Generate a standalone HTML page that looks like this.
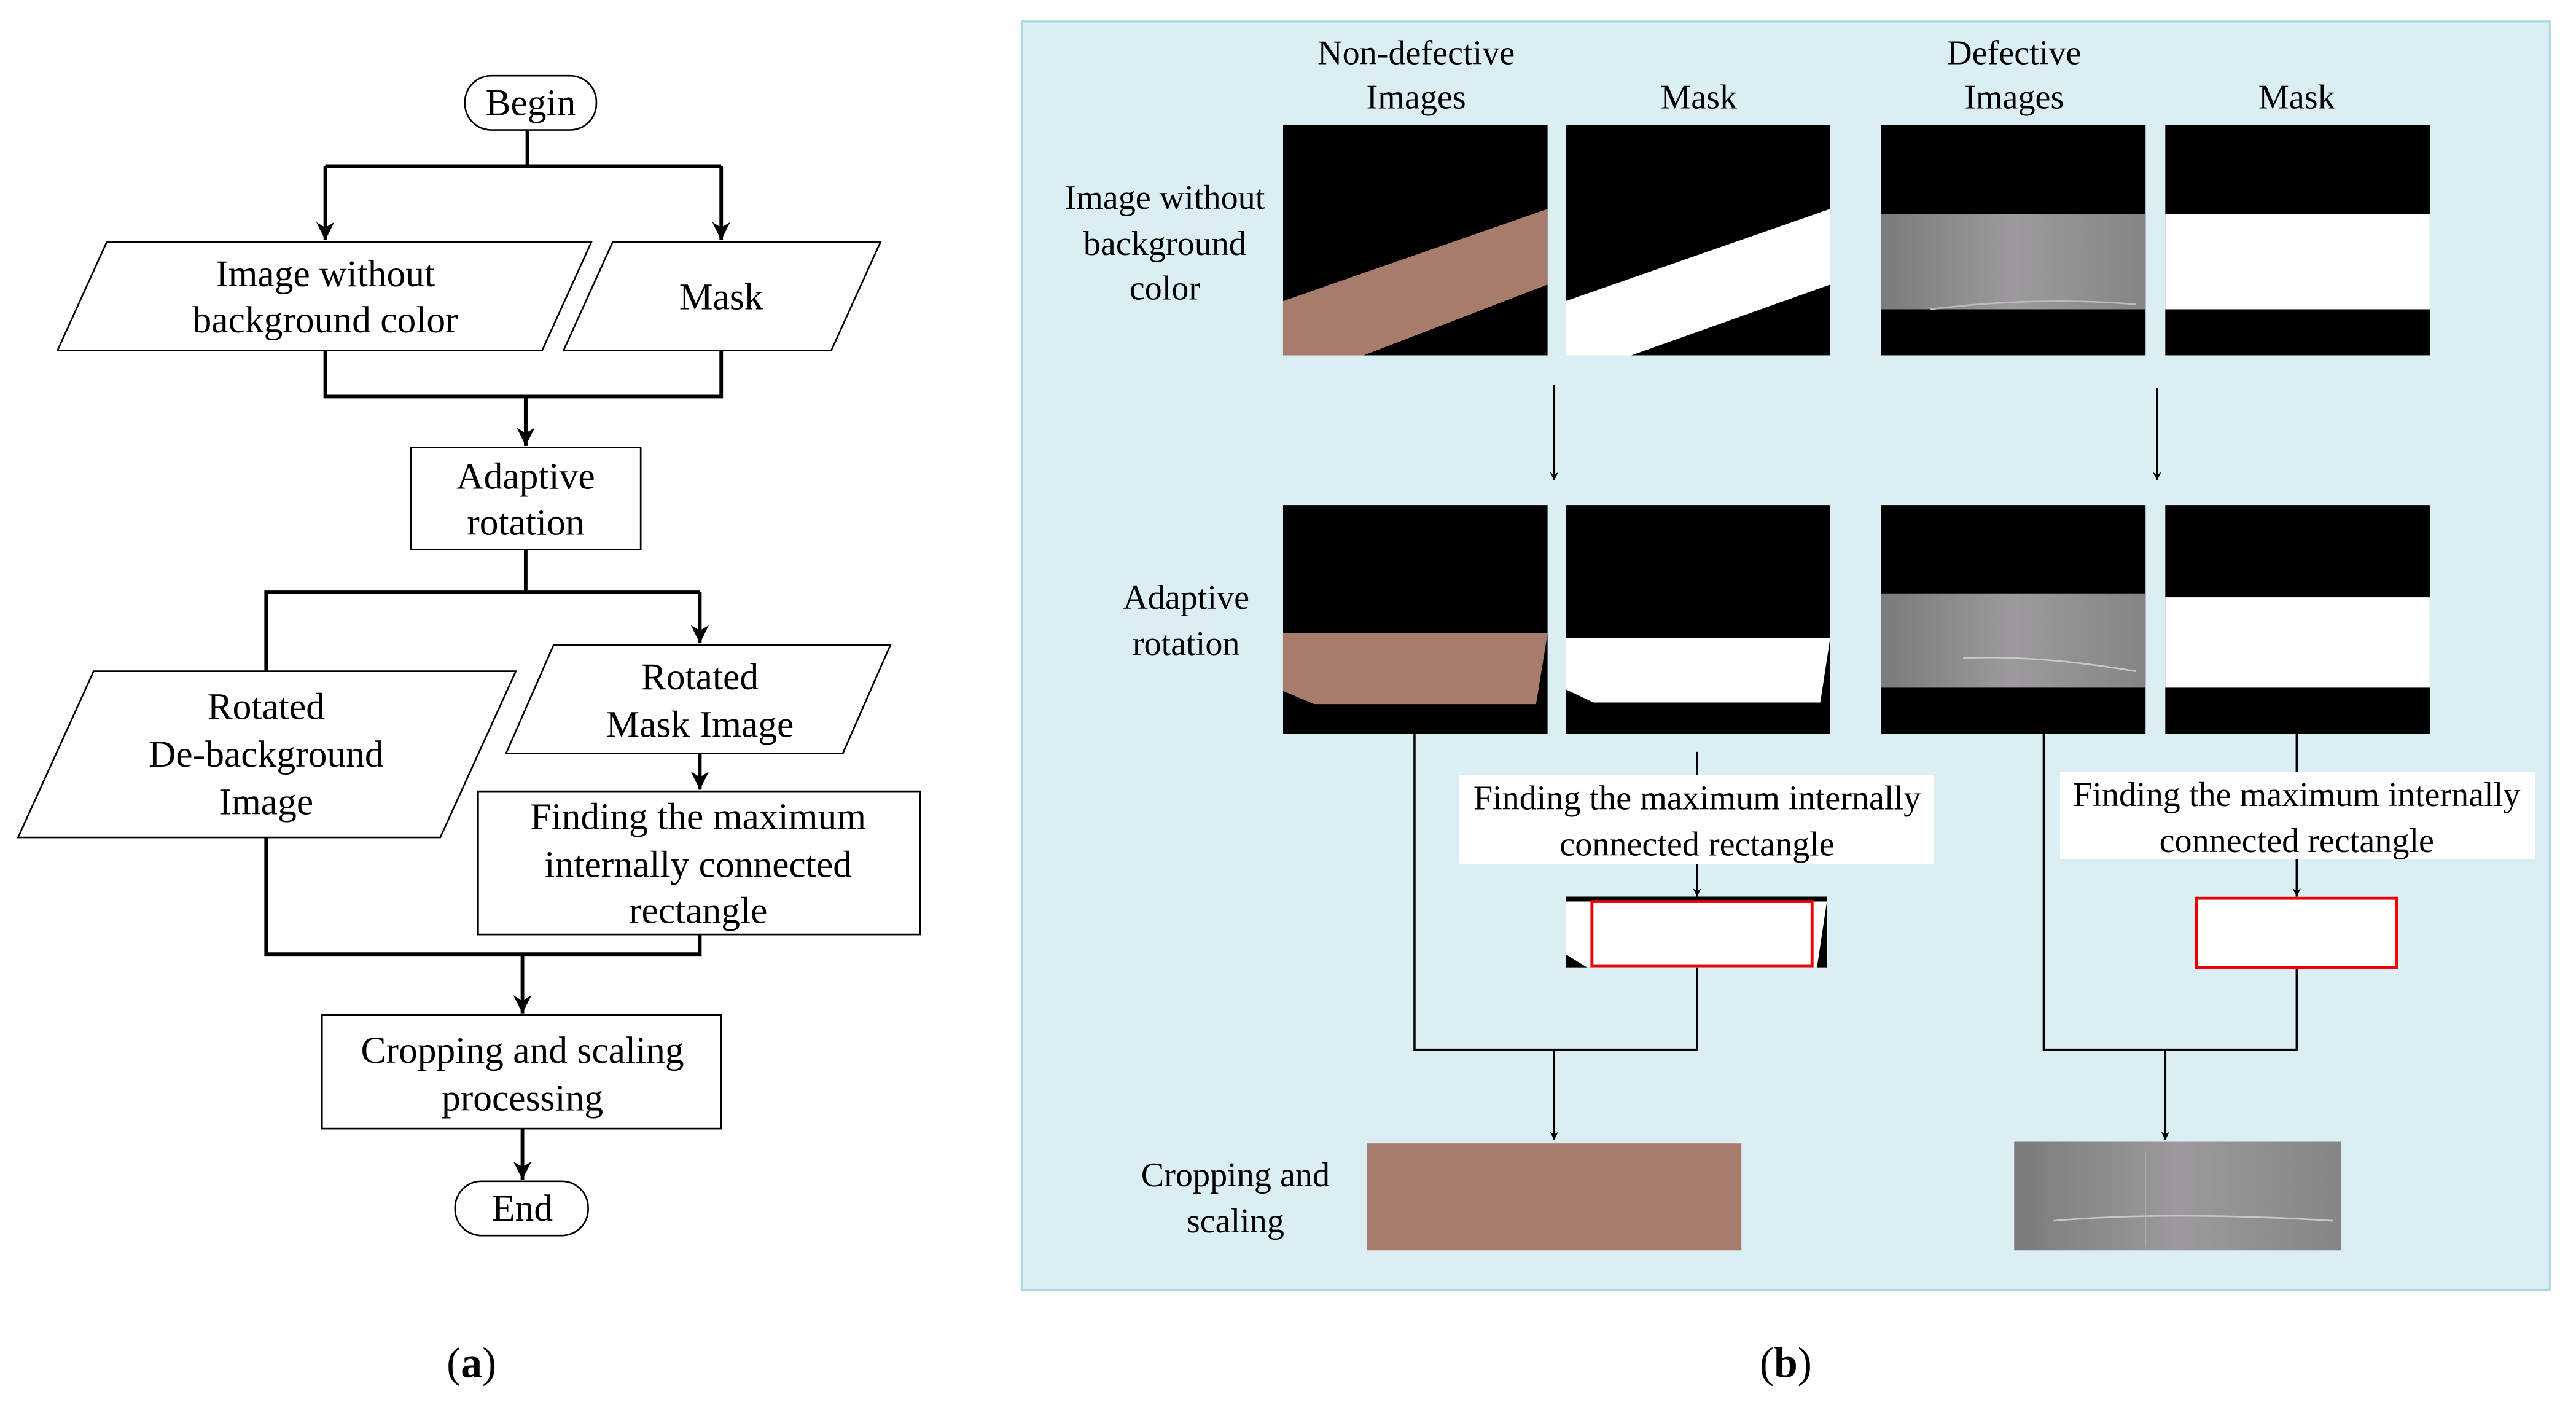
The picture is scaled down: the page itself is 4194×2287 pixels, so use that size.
<!DOCTYPE html>
<html><head><meta charset="utf-8"><style>
html,body{margin:0;padding:0;background:#fff;}
svg{display:block;}
text{font-family:"Liberation Serif",serif;fill:#000;text-anchor:middle;}
</style></head><body>
<svg width="4194" height="2287" viewBox="0 0 1568 854" preserveAspectRatio="none" xmlns="http://www.w3.org/2000/svg">
<defs>
<marker id="ah" viewBox="0 0 10 10" refX="10" refY="5" markerWidth="5" markerHeight="7" orient="auto" markerUnits="userSpaceOnUse"><path d="M0,0 L10,5 L0,10 L3,5 z" fill="#000"/></marker>
<marker id="ahb" viewBox="0 0 10 10" refX="10" refY="5" markerWidth="16" markerHeight="11" orient="auto" markerUnits="userSpaceOnUse"><path d="M0,0 L10,5 L0,10 L3,5 z" fill="#000"/></marker>
<linearGradient id="gray" x1="0" y1="0" x2="1" y2="0"><stop offset="0" stop-color="#7b7b7b"/><stop offset="0.5" stop-color="#9c9a9c"/><stop offset="1" stop-color="#858585"/></linearGradient>
</defs>
<rect width="1568" height="854" fill="#fff"/>
<g stroke="#000" fill="none">
<rect x="283" y="46" width="80" height="33" rx="16" fill="#fff" stroke-width="1"/>
<g stroke-width="2.2">
<path d="M321,79 V101 M198,101 H439"/>
<path d="M198,101 V146" marker-end="url(#ahb)"/>
<path d="M439,101 V146" marker-end="url(#ahb)"/>
<path d="M198,213 V241 H439 V213 M320,241 V271" />
<path d="M320,241 V271" marker-end="url(#ahb)"/>
<path d="M320,334 V360 M162,408 V360 H426"/>
<path d="M426,360 V391" marker-end="url(#ahb)"/>
<path d="M426,458 V480" marker-end="url(#ahb)"/>
<path d="M162,509 V580 H426 V568"/>
<path d="M318,580 V616" marker-end="url(#ahb)"/>
<path d="M318,686 V717" marker-end="url(#ahb)"/>
</g>
<g stroke-width="1" fill="#fff">
<polygon points="35,213 65,147 360,147 330,213"/>
<polygon points="343,213 373,147 536,147 506,213"/>
<rect x="250" y="272" width="140" height="62"/>
<polygon points="11,509 57,408 314,408 268,509"/>
<polygon points="308,458 337,392 542,392 513,458"/>
<rect x="291" y="481" width="269" height="87"/>
<rect x="196" y="617" width="243" height="69"/>
<rect x="277" y="718" width="81" height="33" rx="16"/>
</g>
</g>
<g font-size="23">
<text x="323" y="70">Begin</text>
<text x="198" y="174">Image without</text>
<text x="198" y="202">background color</text>
<text x="439" y="188">Mask</text>
<text x="320" y="297">Adaptive</text>
<text x="320" y="325">rotation</text>
<text x="162" y="437">Rotated</text>
<text x="162" y="466">De-background</text>
<text x="162" y="495">Image</text>
<text x="426" y="419">Rotated</text>
<text x="426" y="448">Mask Image</text>
<text x="425" y="504">Finding the maximum</text>
<text x="425" y="533">internally connected</text>
<text x="425" y="561">rectangle</text>
<text x="318" y="646">Cropping and scaling</text>
<text x="318" y="675">processing</text>
<text x="318" y="742">End</text>
<text x="287" y="837" font-size="26">(<tspan font-weight="bold">a</tspan>)</text>
<text x="1087" y="837" font-size="26">(<tspan font-weight="bold">b</tspan>)</text>
</g>
<rect x="622" y="13" width="930" height="771" fill="#dbeef4" stroke="#a8d8e0" stroke-width="1.2"/>
<g font-size="21">
<text x="862" y="39">Non-defective</text>
<text x="862" y="66">Images</text>
<text x="1034" y="66">Mask</text>
<text x="1226" y="39">Defective</text>
<text x="1226" y="66">Images</text>
<text x="1398" y="66">Mask</text>
<text x="709" y="127">Image without</text>
<text x="709" y="155">background</text>
<text x="709" y="182">color</text>
<text x="722" y="370">Adaptive</text>
<text x="722" y="398">rotation</text>
<text x="752" y="721">Cropping and</text>
<text x="752" y="749">scaling</text>
</g>
<rect x="781" y="76" width="161" height="140" fill="#000"/>
<polygon points="781,183 942,127 942,173 830,216 781,216" fill="#a87c6c"/>
<rect x="953" y="76" width="161" height="140" fill="#000"/>
<polygon points="953,183 1114,127 1114,173 993,216 953,216" fill="#fff"/>
<rect x="1145" y="76" width="161" height="140" fill="#000"/>
<rect x="1145" y="130" width="161" height="58" fill="url(#gray)"/>
<rect x="1318" y="76" width="161" height="140" fill="#000"/>
<rect x="1318" y="130" width="161" height="58" fill="#fff"/>
<rect x="781" y="307" width="161" height="139" fill="#000"/>
<polygon points="781,385 942,385 935,428 800,428 781,420" fill="#a87c6c"/>
<rect x="953" y="307" width="161" height="139" fill="#000"/>
<polygon points="953,388 1114,388 1108,427 970,427 953,419" fill="#fff"/>
<rect x="1145" y="307" width="161" height="139" fill="#000"/>
<rect x="1145" y="361" width="161" height="57" fill="url(#gray)"/>
<path d="M1195,400 Q1240,398 1300,408" stroke="#c8c8c8" stroke-width="1" fill="none"/>
<rect x="1318" y="307" width="161" height="139" fill="#000"/>
<rect x="1318" y="363" width="161" height="55" fill="#fff"/>
<path d="M1175,188 Q1240,180 1300,185" stroke="#bbb" stroke-width="1" fill="none"/>
<g stroke="#000" stroke-width="1.3" fill="none">
<path d="M946,234 V292" marker-end="url(#ah)"/>
<path d="M1313,236 V292" marker-end="url(#ah)"/>
<path d="M861,446 V638 H1033 V588"/>
<path d="M1033,457 V472"/>
<path d="M1033,525 V545" marker-end="url(#ah)"/>
<path d="M946,638 V693" marker-end="url(#ah)"/>
<path d="M1244,446 V638 H1398 V588"/>
<path d="M1398,446 V470"/>
<path d="M1398,522 V545" marker-end="url(#ah)"/>
<path d="M1318,638 V693" marker-end="url(#ah)"/>
</g>
<rect x="888" y="471" width="289" height="54" fill="#fff"/>
<rect x="1254" y="469" width="289" height="53" fill="#fff"/>
<g font-size="21">
<text x="1033" y="492">Finding the maximum internally</text>
<text x="1033" y="520">connected rectangle</text>
<text x="1398" y="490">Finding the maximum internally</text>
<text x="1398" y="518">connected rectangle</text>
</g>
<rect x="953" y="545" width="159" height="43" fill="#000"/>
<polygon points="953,548 1112,548 1106,588 966,588 953,580" fill="#fff"/>
<rect x="969" y="548" width="134" height="39" fill="#fff" stroke="#e00" stroke-width="1.8"/>
<rect x="1337" y="546" width="122" height="42" fill="#fff" stroke="#e00" stroke-width="1.8"/>
<rect x="832" y="695" width="228" height="65" fill="#a87c6c"/>
<rect x="1226" y="694" width="199" height="66" fill="url(#gray)"/>
<path d="M1250,742 Q1320,736 1420,742" stroke="#c8c8c8" stroke-width="1" fill="none"/>
<path d="M1306,700 V758" stroke="#aaa" stroke-width="0.6"/>
</svg>
</body></html>
